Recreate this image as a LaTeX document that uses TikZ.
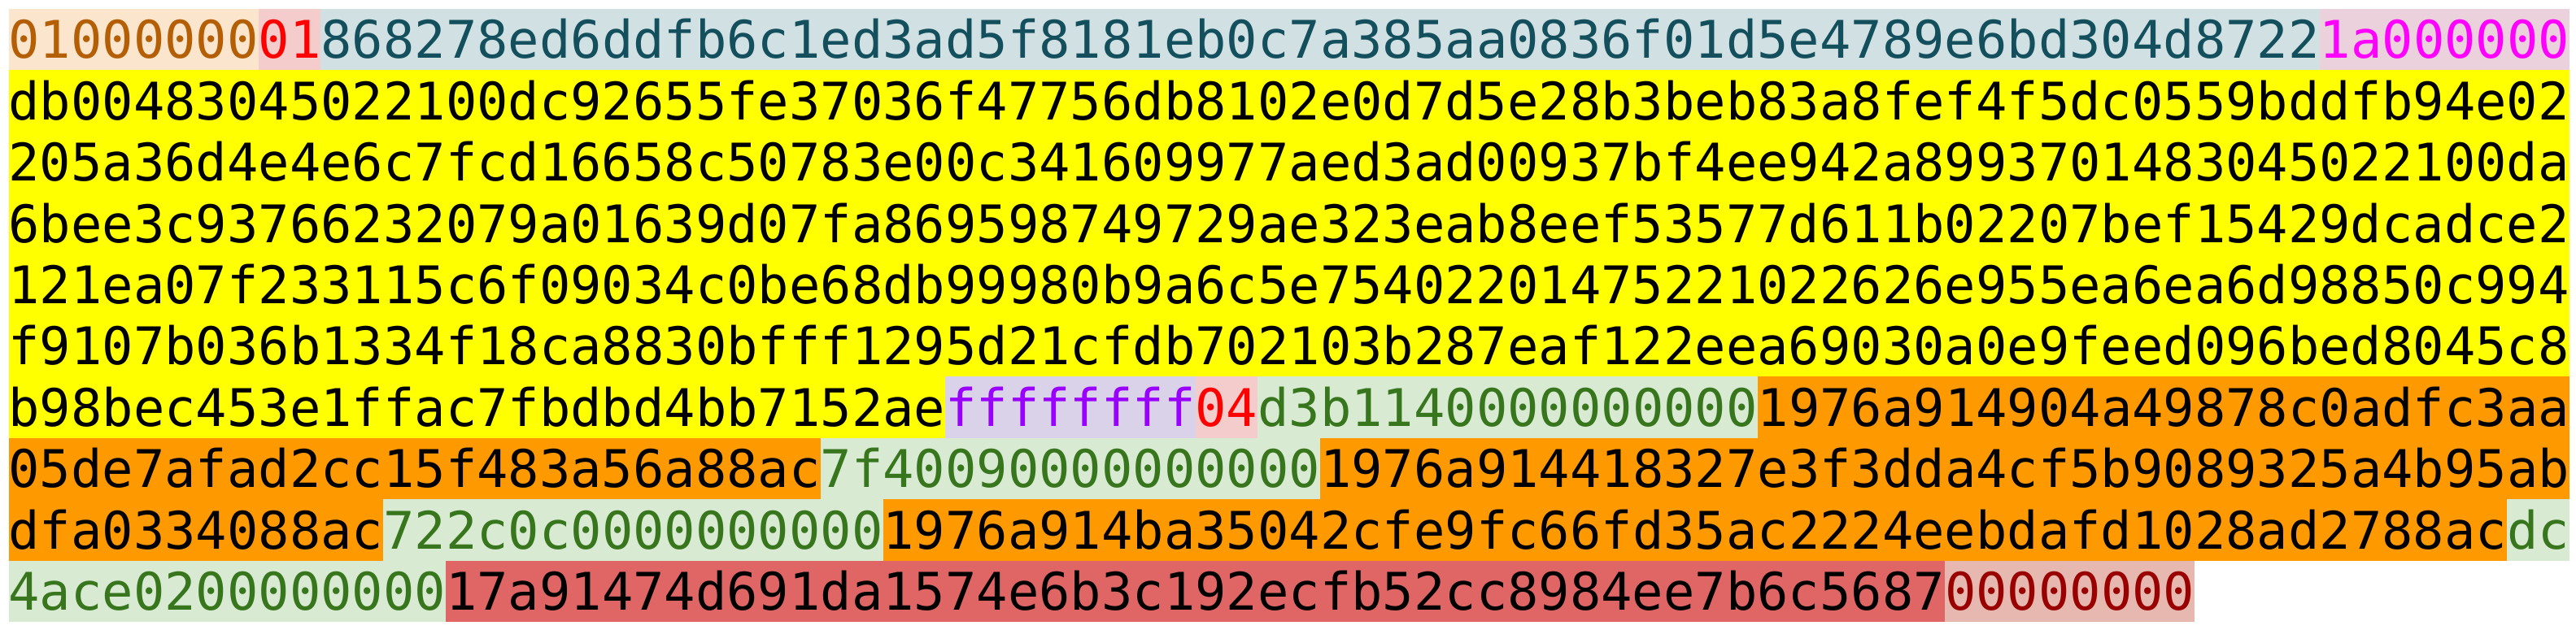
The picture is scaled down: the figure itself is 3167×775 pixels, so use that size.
\documentclass[tikz,border=0pt]{standalone}
\usepackage{fontspec}
\setmonofont{DejaVu Sans Mono}
\usepackage{tikz}
\usetikzlibrary{positioning}

\definecolor{verfg}{HTML}{B45F06}
\definecolor{verbg}{HTML}{FCE5CD}
\definecolor{cntfg}{HTML}{FF0000}
\definecolor{cntbg}{HTML}{F4CCCC}
\definecolor{txidfg}{HTML}{134F5C}
\definecolor{txidbg}{HTML}{D0E0E3}
\definecolor{voutfg}{HTML}{FF00FF}
\definecolor{voutbg}{HTML}{EAD1DC}
\definecolor{sigbg}{HTML}{FFFF00}
\definecolor{seqfg}{HTML}{9900FF}
\definecolor{seqbg}{HTML}{D9D2E9}
\definecolor{amtfg}{HTML}{38761D}
\definecolor{amtbg}{HTML}{D9EAD3}
\definecolor{pkhbg}{HTML}{FF9900}
\definecolor{shbg}{HTML}{E06666}
\definecolor{lockfg}{HTML}{990000}
\definecolor{lockbg}{HTML}{E6B8AF}

\begin{document}
\begin{tikzpicture}[x=0.3136pt,y=0.3136pt]
\useasboundingbox (0,0) rectangle (3167,-775);
\tikzstyle{hexbox}=[inner sep=0pt, outer sep=0pt, text height=19.1pt, text depth=4.55pt, font=\ttfamily\fontsize{20}{24}\selectfont];
\tikzstyle{verbox}=[hexbox, fill=verbg, text=verfg];
\tikzstyle{cntbox}=[hexbox, fill=cntbg, text=cntfg];
\tikzstyle{txidbox}=[hexbox, fill=txidbg, text=txidfg];
\tikzstyle{voutbox}=[hexbox, fill=voutbg, text=voutfg];
\tikzstyle{sigbox}=[hexbox, fill=sigbg, text=black];
\tikzstyle{seqbox}=[hexbox, fill=seqbg, text=seqfg];
\tikzstyle{amtbox}=[hexbox, fill=amtbg, text=amtfg];
\tikzstyle{pkhbox}=[hexbox, fill=pkhbg, text=black];
\tikzstyle{shbox}=[hexbox, fill=shbg, text=black];
\tikzstyle{lockbox}=[hexbox, fill=lockbg, text=lockfg];
% input
\node[verbox, anchor=south west] (l1ver) at (10.5,-86.4) {01000000};
\node[cntbox, right=0pt of l1ver] (l1cnt) {01};
\node[txidbox, right=0pt of l1cnt] (l1txid) {868278ed6ddfb6c1ed3ad5f8181eb0c7a385aa0836f01d5e4789e6bd304d8722};
\node[voutbox, right=0pt of l1txid] (l1vout) {1a000000};
% scriptSig
\node[sigbox, anchor=south west] (l2sig) at (10.5,-161.8) {db00483045022100dc92655fe37036f47756db8102e0d7d5e28b3beb83a8fef4f5dc0559bddfb94e02};
\node[sigbox, anchor=south west] (l3sig) at (10.5,-237.2) {205a36d4e4e6c7fcd16658c50783e00c341609977aed3ad00937bf4ee942a8993701483045022100da};
\node[sigbox, anchor=south west] (l4sig) at (10.5,-312.6) {6bee3c93766232079a01639d07fa869598749729ae323eab8eef53577d611b02207bef15429dcadce2};
\node[sigbox, anchor=south west] (l5sig) at (10.5,-388.0) {121ea07f233115c6f09034c0be68db99980b9a6c5e75402201475221022626e955ea6ea6d98850c994};
\node[sigbox, anchor=south west] (l6sig) at (10.5,-463.4) {f9107b036b1334f18ca8830bfff1295d21cfdb702103b287eaf122eea69030a0e9feed096bed8045c8};
\node[sigbox, anchor=south west] (l7sig) at (10.5,-538.8) {b98bec453e1ffac7fbdbd4bb7152ae};
\node[seqbox, right=0pt of l7sig] (l7seq) {ffffffff};
% outputs
\node[cntbox, right=0pt of l7seq] (l7cnt) {04};
\node[amtbox, right=0pt of l7cnt] (l7amt) {d3b1140000000000};
\node[pkhbox, right=0pt of l7amt] (l7pkh) {1976a914904a49878c0adfc3aa};
\node[pkhbox, anchor=south west] (l8pkh) at (10.5,-614.2) {05de7afad2cc15f483a56a88ac};
\node[amtbox, right=0pt of l8pkh] (l8amt) {7f40090000000000};
\node[pkhbox, right=0pt of l8amt] (l8pkhb) {1976a914418327e3f3dda4cf5b9089325a4b95ab};
\node[pkhbox, anchor=south west] (l9pkh) at (10.5,-689.6) {dfa0334088ac};
\node[amtbox, right=0pt of l9pkh] (l9amt) {722c0c0000000000};
\node[pkhbox, right=0pt of l9amt] (l9pkhb) {1976a914ba35042cfe9fc66fd35ac2224eebdafd1028ad2788ac};
\node[amtbox, right=0pt of l9pkhb] (l9amtb) {dc};
\node[amtbox, anchor=south west] (l10amt) at (10.5,-765.0) {4ace0200000000};
\node[shbox, right=0pt of l10amt] (l10sh) {17a91474d691da1574e6b3c192ecfb52cc8984ee7b6c5687};
\node[lockbox, right=0pt of l10sh] (l10lock) {00000000};
\end{tikzpicture}
\end{document}
